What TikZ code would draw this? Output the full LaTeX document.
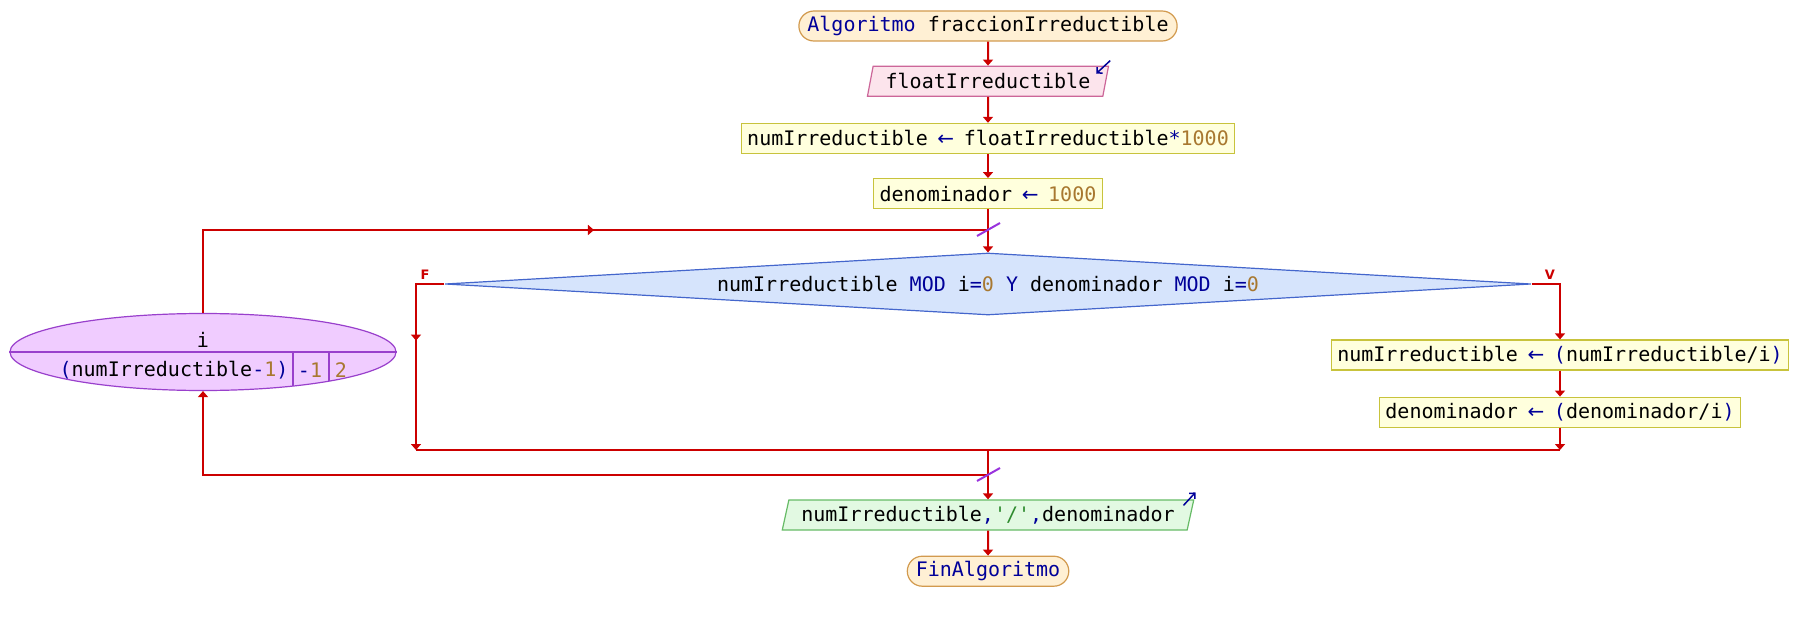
\documentclass[tikz,border=0pt]{standalone}
\usepackage{fontspec}
\setmonofont{DejaVu Sans Mono}
\newfontfamily\etiqfont{DejaVu Sans}
\usepackage{tikz}
\usetikzlibrary{positioning, arrows.meta, shapes.geometric, decorations.markings}
\definecolor{rojo}{HTML}{CC0000}
\definecolor{azul}{HTML}{000099}
\definecolor{cafe}{HTML}{A87830}
\definecolor{verde}{HTML}{2E8B2E}
\definecolor{termfondo}{HTML}{FFF0D4}
\definecolor{termborde}{HTML}{D29A4E}
\definecolor{entfondo}{HTML}{FCE4EC}
\definecolor{entborde}{HTML}{CC6699}
\definecolor{cajafondo}{HTML}{FFFFDD}
\definecolor{cajaborde}{HTML}{C8C33C}
\definecolor{rombofondo}{HTML}{D6E4FC}
\definecolor{romboborde}{HTML}{4466CC}
\definecolor{ciclofondo}{HTML}{F0CCFF}
\definecolor{cicloborde}{HTML}{9940CC}
\definecolor{salfondo}{HTML}{E2F9E2}
\definecolor{salborde}{HTML}{66BB66}
\definecolor{morado}{HTML}{9933DD}
\newcommand{\kw}[1]{\textcolor{azul}{#1}}
\newcommand{\nro}[1]{\textcolor{cafe}{#1}}
\newcommand{\cad}[1]{\textcolor{verde}{#1}}
\newcommand{\asig}{\makebox[12pt]{\textcolor{azul}{\etiqfont ←}}}
\tikzset{flecha/.style={line width=2pt, rojo, -{Triangle[width=10pt,length=6pt]}}}
\tikzset{linea/.style={line width=2pt, rojo}}
\tikzset{medio/.style={postaction={decorate}, decoration={markings, mark=at position #1 with {\arrow{Triangle[width=10pt,length=6pt]}}}}}
\tikzset{caja/.style={draw=cajaborde, fill=cajafondo, line width=1.2pt, minimum height=30pt, inner xsep=6pt, inner ysep=0pt}}
\tikzset{terminal/.style={caja, draw=termborde, fill=termfondo, rounded corners=15pt, inner xsep=8.5pt}}
\tikzset{entrada/.style={caja, trapezium, trapezium stretches=true, trapezium left angle=70, trapezium right angle=110, draw=entborde, fill=entfondo, inner xsep=12.5pt}}
\tikzset{salida/.style={entrada, draw=salborde, fill=salfondo}}
\tikzset{rombo/.style={diamond, aspect=17, minimum width=1086pt, minimum height=62pt, inner sep=2pt, draw=romboborde, fill=rombofondo, line width=1.2pt}}
\tikzset{ciclo/.style={ellipse, minimum width=386pt, minimum height=77pt, inner sep=0pt, draw=cicloborde, fill=ciclofondo, line width=1.2pt}}
\tikzset{texto/.style={inner sep=0pt}}
\tikzset{divisor/.style={cicloborde, line width=1.2pt}}
\tikzset{etiq/.style={inner sep=0pt, rojo, font=\etiqfont\bfseries\fontsize{13}{15}\selectfont}}
\tikzset{marca/.style={morado, line width=2pt}}
\tikzset{icono/.style={azul, line width=1.5pt, -{Straight Barb[length=4pt,width=8pt]}}}

\begin{document}
\begin{tikzpicture}[
                x=1pt, y=-1pt,
                every node/.style={font=\ttfamily\fontsize{20}{24}\selectfont}
            ]
                \useasboundingbox (0,0) rectangle (1798,620);

                \node[terminal](1) at (988,26) {\kw{Algoritmo} fraccionIrreductible};
                \node[entrada, below=24pt of 1] (2) {floatIrreductible};
                \node[caja, below=26pt of 2] (3) {numIrreductible \asig{} floatIrreductible\kw{*}\nro{1000}};
                \node[caja, below=24pt of 3] (4) {denominador \asig{} \nro{1000}};
                \node[rombo] (5) at (988,284) {numIrreductible \kw{MOD} i\kw{=}\nro{0} \kw{Y} denominador \kw{MOD} i\kw{=}\nro{0}};
                \node[caja] (6) at (1560,355) {numIrreductible \asig{} \kw{(}numIrreductible/i\kw{)}};
                \node[caja, below=26pt of 6] (7) {denominador \asig{} \kw{(}denominador/i\kw{)}};
                \node[salida] (8) at (988,515) {numIrreductible\kw{,}\cad{'/'}\kw{,}denominador};
                \node[terminal, below=25pt of 8] (9) {\kw{FinAlgoritmo}};

                \node[ciclo] (10) at (203,352) {};
                \node[texto] (11) at (203,340) {i};
                \node[texto] (12) at (174,370) {\kw{(}numIrreductible\kw{-}\nro{1}\kw{)}};
                \node[texto] (13) at (310,370) {\kw{-}\nro{1}};
                \node[texto] (14) at (341,370) {\nro{2}};
                \draw[divisor] (10.west) -- (10.east);
                \draw[divisor] ([xshift=90pt]10.center) -- ([xshift=90pt,yshift=-34pt]10.center);
                \draw[divisor] ([xshift=126pt]10.center) -- ([xshift=126pt,yshift=-29pt]10.center);

                \node[etiq] (15) at (425,275) {F};
                \node[etiq] (16) at (1550,275) {V};

                \coordinate (c1) at (988,230);
                \coordinate (c2) at (416,450);
                \coordinate (c3) at (1560,450);
                \coordinate (c4) at (988,450);
                \coordinate (c5) at (988,475);

                \draw[flecha] (1) -- (2);
                \draw[flecha] (2) -- (3);
                \draw[flecha] (3) -- (4);
                \draw[flecha] (4) -- (5);
                \draw[linea, medio=0.546] (10.north) |- (c1);
                \draw[flecha, medio=0.437] (5.west) -| (c2);
                \draw[flecha] (5.east) -| (6);
                \draw[flecha] (6) -- (7);
                \draw[flecha] (7) -- (c3);
                \draw[linea] (c2) -- (c3);
                \draw[flecha] (c4) -- (8);
                \draw[flecha] (c5) -| (10.south);
                \draw[flecha] (8) -- (9);

                \draw[marca] ([shift={(-11,6)}]c1) -- ([shift={(12,-7)}]c1);
                \draw[marca] ([shift={(-11,6)}]c5) -- ([shift={(12,-7)}]c5);
                \draw[icono] ([shift={(1,-5)}]2.top right corner) -- ([shift={(-13,8)}]2.top right corner);
                \draw[icono] ([shift={(-11,6)}]8.top right corner) -- ([shift={(1,-7)}]8.top right corner);
            \end{tikzpicture}
\end{document}
